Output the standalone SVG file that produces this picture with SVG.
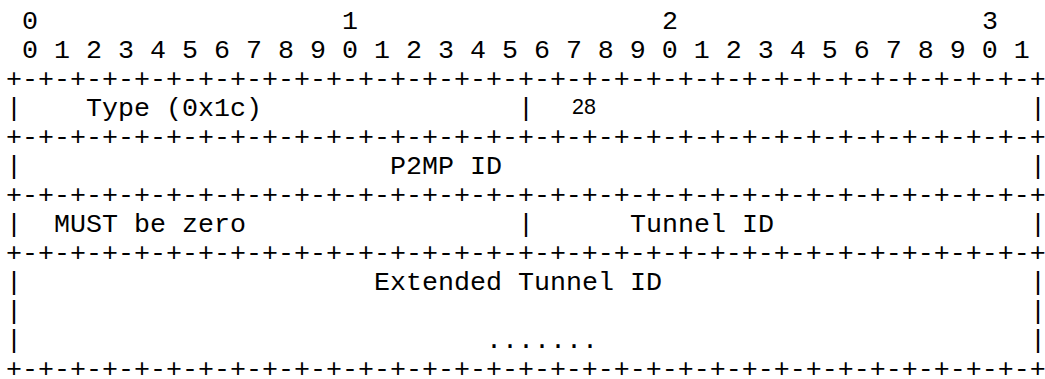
<svg xmlns="http://www.w3.org/2000/svg" width="1045" height="379" viewBox="0 0 1045 379">
<style>
text{font-family:"Courier New","Nimbus Mono PS","FreeMono","Liberation Mono",monospace;font-size:26.667px;fill:#000;white-space:pre}
.sans{font-family:"Liberation Sans",Arial,sans-serif;font-size:21.5px}
</style>
<rect width="1045" height="379" fill="#fff"/>
<g id="header">
<text x="22" y="28.5">0</text><text x="342" y="28.5">1</text><text x="662" y="28.5">2</text><text x="982" y="28.5">3</text>
<text x="22" y="57.5">0 1 2 3 4 5 6 7 8 9 0 1 2 3 4 5 6 7 8 9 0 1 2 3 4 5 6 7 8 9 0 1</text>
</g>
<g id="borders">
<text x="6" y="86.6">+-+-+-+-+-+-+-+-+-+-+-+-+-+-+-+-+-+-+-+-+-+-+-+-+-+-+-+-+-+-+-+-+</text>
<text x="6" y="144.7">+-+-+-+-+-+-+-+-+-+-+-+-+-+-+-+-+-+-+-+-+-+-+-+-+-+-+-+-+-+-+-+-+</text>
<text x="6" y="202.8">+-+-+-+-+-+-+-+-+-+-+-+-+-+-+-+-+-+-+-+-+-+-+-+-+-+-+-+-+-+-+-+-+</text>
<text x="6" y="260.9">+-+-+-+-+-+-+-+-+-+-+-+-+-+-+-+-+-+-+-+-+-+-+-+-+-+-+-+-+-+-+-+-+</text>
<text x="6" y="376.8">+-+-+-+-+-+-+-+-+-+-+-+-+-+-+-+-+-+-+-+-+-+-+-+-+-+-+-+-+-+-+-+-+</text>
</g>
<g id="row-type">
<text x="6" y="115.65">|</text><text x="86" y="115.65">Type (0x1c)</text><text x="518" y="115.65">|</text>
<text class="sans" x="572" y="114">28</text><text x="1030" y="115.65">|</text>
</g>
<g id="row-p2mp">
<text x="6" y="173.75">|</text><text x="390" y="173.75">P2MP ID</text><text x="1030" y="173.75">|</text>
</g>
<g id="row-must">
<text x="6" y="231.85">|</text><text x="54" y="231.85">MUST be zero</text><text x="518" y="231.85">|</text>
<text x="630" y="231.85">Tunnel ID</text><text x="1030" y="231.85">|</text>
</g>
<g id="row-ext">
<text x="6" y="289.95">|</text><text x="374" y="289.95">Extended Tunnel ID</text><text x="1030" y="289.95">|</text>
<text x="6" y="319">|</text><text x="1030" y="319">|</text>
<text x="6" y="348.05">|</text><text x="486" y="348.05">.......</text><text x="1030" y="348.05">|</text>
</g>
</svg>
